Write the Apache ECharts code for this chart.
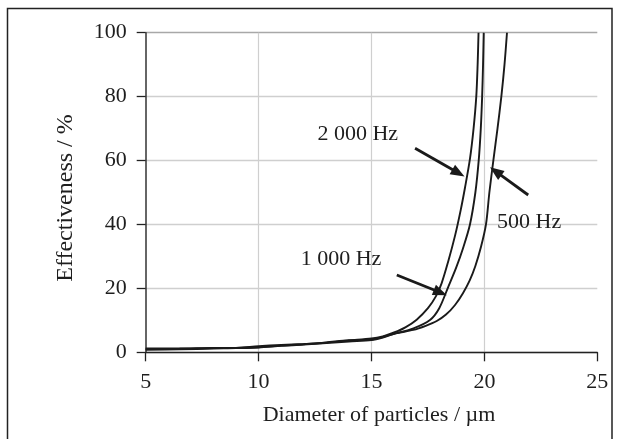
<!DOCTYPE html>
<html>
<head>
<meta charset="utf-8">
<script src="https://cdn.jsdelivr.net/npm/echarts@6/dist/echarts.min.js"></script>
<style>
html,body{margin:0;padding:0;background:#fff;}
#chart{width:620px;height:439px;}
</style>
</head>
<body>
<div id="chart"></div>
<script>
// ---- data ----
const xTicks = [5, 10, 15, 20, 25];
const yTicks = [0, 20, 40, 60, 80, 100];
const seriesNames = ['2 000 Hz', '1 000 Hz', '500 Hz'];
const hz2000 = [[5,1.0],[6.5,1.1],[8,1.3],[9,1.4],[10,1.9],[11,2.3],[12,2.6],[13,3.0],[14,3.7],[15,4.3],[15.5,5.0],[16,6.2],[16.5,7.8],[17,10.2],[17.5,13.8],[17.85,17.5],[18.1,21.5],[18.4,28.5],[18.7,36.5],[18.95,44.5],[19.14,51.5],[19.36,60.5],[19.52,70],[19.64,80],[19.7,90],[19.74,100]];
const hz1000 = [[5,0.8],[6.5,0.9],[8,1.2],[9,1.3],[10,1.6],[11,2.1],[12,2.5],[13,3.1],[14,3.8],[15,4.0],[15.5,4.8],[16,5.8],[16.86,7.5],[17.59,10.1],[18,13.8],[18.4,20.5],[18.75,26.5],[19.05,32.5],[19.36,40],[19.6,50],[19.75,60.2],[19.84,70],[19.9,80],[19.94,90],[19.97,100]];
const hz500 = [[5,1.2],[6.5,1.2],[8,1.4],[9,1.3],[10,1.5],[11,2.0],[12,2.4],[13,2.9],[14,3.4],[15,3.8],[15.5,4.6],[16.07,5.9],[16.85,7.0],[17.4,8.3],[17.89,9.8],[18.3,11.8],[18.7,14.8],[19.05,18.5],[19.35,22.5],[19.6,27],[19.85,33],[20.07,40],[20.22,50],[20.4,60.2],[20.58,70],[20.75,80],[20.89,90],[21.0,100]];
// annotation anchors in data units: label position, arrow start, arrow end
const ann2000 = {label:[14.39,68.3], from:[16.93,63.83], to:[18.85,56.1]};
const ann1000 = {label:[13.65,29.04], from:[16.12,24.19], to:[18.05,18.7]};
const ann500  = {label:[21.98,40.6], from:[21.94,49.22], to:[20.5,56.6]};

const FONT = '"Liberation Serif","Times New Roman",serif';
const TXT = '#1e1e1e';

function mkSeries(name, data, ann) {
  return {
    name: name,
    type: 'line',
    data: data,
    showSymbol: false,
    smooth: 0.3,
    clip: false,
    lineStyle: {color: '#1a1a1a', width: 1.9},
    silent: true,
    markLine: {
      silent: true,
      symbol: ['none', 'triangle'],
      symbolSize: [11, 14],
      lineStyle: {color: '#1a1a1a', width: 2.8, type: 'solid'},
      label: {show: false},
      emphasis: {disabled: true},
      data: [[{coord: ann.from}, {coord: ann.to}]]
    },
    markPoint: {
      silent: true,
      symbol: 'rect',
      symbolSize: 1,
      itemStyle: {color: 'rgba(0,0,0,0)'},
      label: {show: true, position: 'inside', formatter: name, fontFamily: FONT, fontSize: 22, color: TXT},
      data: [{coord: ann.label}]
    }
  };
}

const chart = echarts.init(document.getElementById('chart'), null, {renderer: 'canvas'});
chart.setOption({
  backgroundColor: '#fff',
  animation: false,
  graphic: [{
    type: 'rect',
    shape: {x: 7.5, y: 8.5, width: 604.5, height: 460},
    style: {fill: 'none', stroke: '#222', lineWidth: 1.5},
    silent: true
  }],
  grid: {left: 145.7, right: 22.7, top: 32.7, bottom: 86.7, containLabel: false},
  xAxis: {
    type: 'value', min: xTicks[0], max: xTicks[xTicks.length-1], interval: 5,
    name: 'Diameter of particles / µm',
    nameLocation: 'middle', nameGap: 52,
    nameTextStyle: {fontFamily: FONT, fontSize: 22, color: TXT, padding: [0,0,0,15]},
    axisLine: {show: true, lineStyle: {color: '#222', width: 1.3}},
    axisTick: {show: true, length: 9, lineStyle: {color: '#222', width: 1.3}},
    axisLabel: {margin: 19, fontFamily: FONT, fontSize: 22, color: TXT},
    splitLine: {show: true, showMinLine: false, showMaxLine: false, lineStyle: {color: '#cfcfcf', width: 1.2}}
  },
  yAxis: {
    type: 'value', min: yTicks[0], max: yTicks[yTicks.length-1], interval: 20,
    name: 'Effectiveness / %',
    nameLocation: 'middle', nameGap: 68,
    nameTextStyle: {fontFamily: FONT, fontSize: 24, color: TXT, padding: [0,11,0,0]},
    axisLine: {show: true, lineStyle: {color: '#333', width: 1.5}},
    axisTick: {show: true, length: 9, lineStyle: {color: '#222', width: 1.3}},
    axisLabel: {margin: 19, fontFamily: FONT, fontSize: 22, color: TXT},
    splitLine: {show: true, lineStyle: {color: ['#cfcfcf','#cfcfcf','#cfcfcf','#cfcfcf','#cfcfcf','#a8a8a8'], width: 1.3}}
  },
  series: [
    mkSeries(seriesNames[0], hz2000, ann2000),
    mkSeries(seriesNames[1], hz1000, ann1000),
    mkSeries(seriesNames[2], hz500, ann500)
  ]
});
</script>
</body>
</html>
